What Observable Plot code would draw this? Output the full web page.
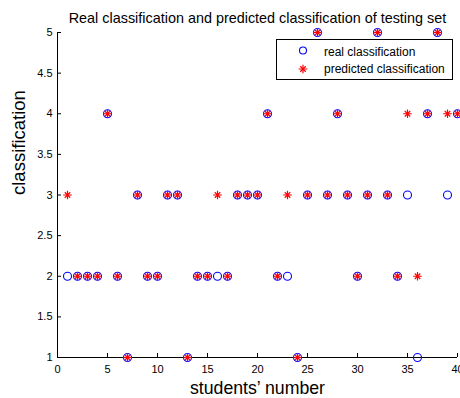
<!DOCTYPE html>
<html><head><meta charset="utf-8">
<script src="https://cdn.jsdelivr.net/npm/d3@7"></script>
<script src="https://cdn.jsdelivr.net/npm/@observablehq/plot@0.6"></script>
<style>
body{margin:0;background:#fff;font-family:"Liberation Sans",Arial,sans-serif;}
#wrap{position:relative;width:460px;height:398px;}
#legend{position:absolute;left:276px;top:39px;width:177px;height:41px;border:1px solid #000;background:#fff;box-sizing:border-box;}
#legend svg{position:absolute;left:0;top:0;}
</style></head><body><div id="wrap"></div>
<script>
const students = [1,2,3,4,5,6,7,8,9,10,11,12,13,14,15,16,17,18,19,20,21,22,23,24,25,26,27,28,29,30,31,32,33,34,35,36,37,38,39,40];
const real = [2,2,2,2,4,2,1,3,2,2, 3,3,1,2,2,2,2,3,3,3, 4,2,2,1,3,5,3,4,3,2, 3,5,3,2,3,1,4,5,3,4];
const predicted = [3,2,2,2,4,2,1,3,2,2, 3,3,1,2,2,3,2,3,3,3, 4,2,3,1,3,5,3,4,3,2, 3,5,3,2,4,2,4,5,4,4];
const xTicks = [0,5,10,15,20,25,30,35,40];
const yTicks = [1,1.5,2,2.5,3,3.5,4,4.5,5];
const seriesNames = ["real classification","predicted classification"];
const titleText = "Real classification and predicted classification of testing set";
const xLabel = "students\u2019 number";
const yLabel = "classification";

const data = students.map((s,i)=>({s, real: real[i], pred: predicted[i]}));
const font = "Liberation Sans, Arial, sans-serif";

const chart = Plot.plot({
  width: 460, height: 398,
  marginTop: 32, marginLeft: 57, marginRight: 3, marginBottom: 41,
  style: {fontFamily: font, background: "#fff", color: "#000"},
  x: {domain: [0, 40]},
  y: {domain: [1, 5]},
  marks: [
    Plot.axisX(xTicks, {tickSize: 0, tickPadding: 8, fontSize: 11, label: null}),
    Plot.axisX(xTicks, {tickSize: -4, text: null, label: null}),
    Plot.axisY(yTicks, {tickSize: 0, tickPadding: 5, fontSize: 11, label: null, tickFormat: d => String(d)}),
    Plot.axisY(yTicks, {tickSize: -4, text: null, label: null}),
    Plot.ruleX([0], {stroke: "#000"}),
    Plot.ruleY([1], {stroke: "#000"}),
    Plot.dot(data, {x: "s", y: "real", r: 4, stroke: "#0000ff", strokeWidth: 1.1, fill: "none"}),
    Plot.dot(data, {x: "s", y: "pred", r: 2.9, symbol: "plus", stroke: "#ff0000", strokeWidth: 1.2}),
    Plot.dot(data, {x: "s", y: "pred", r: 2.6, symbol: "times", stroke: "#ff0000", strokeWidth: 1.2}),
    Plot.text([titleText], {frameAnchor: "top", lineAnchor: "middle", dy: -14, fontSize: 14.4, fill: "#000"}),
    Plot.text([xLabel], {frameAnchor: "bottom", lineAnchor: "middle", dy: 31, fontSize: 17.7, fill: "#000"}),
    Plot.text([yLabel], {frameAnchor: "left", lineAnchor: "middle", dx: -38, rotate: -90, fontSize: 18.5, fill: "#000"})
  ]
});
const wrap = document.getElementById("wrap");
wrap.appendChild(chart);

const legend = document.createElement("div");
legend.id = "legend";
wrap.appendChild(legend);
const lsvg = d3.select(legend).append("svg").attr("width", 177).attr("height", 41);
lsvg.append("circle").attr("cx", 26).attr("cy", 10.5).attr("r", 3.5).attr("fill", "none").attr("stroke", "#0000ff").attr("stroke-width", 1.1);
const sg = lsvg.append("g").attr("transform", "translate(26,29)").attr("stroke", "#ff0000").attr("stroke-width", 1.2);
sg.append("path").attr("d", d3.symbol(d3.symbolPlus, Math.PI*2.9*2.9)());
sg.append("path").attr("d", d3.symbol(d3.symbolTimes, Math.PI*2.6*2.6)());
lsvg.selectAll("text.l").data(seriesNames).join("text")
  .attr("x", 47).attr("y", (d,i)=> i===0 ? 15.5 : 33)
  .attr("font-size", 12).attr("font-family", font).attr("fill", "#000")
  .text(d=>d);
</script></body></html>
